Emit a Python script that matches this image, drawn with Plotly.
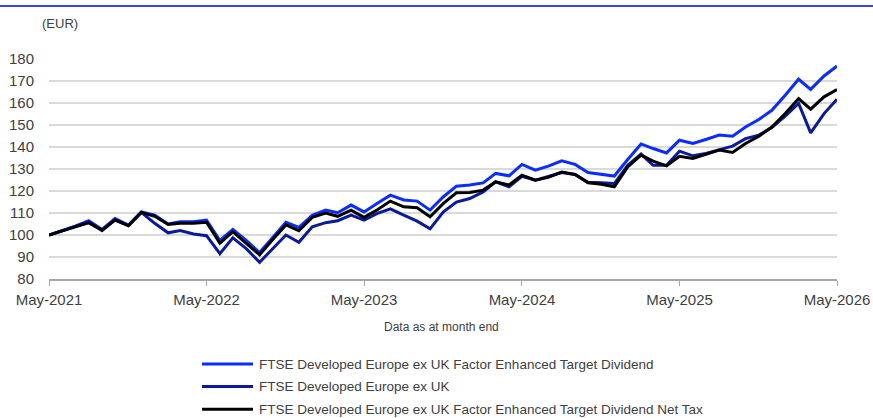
import pandas as pd
import plotly.graph_objects as go

# Month-end index levels, rebased to 100 at May-2021
months = pd.date_range("2021-05-01", "2026-05-01", freq="MS")

factor_target_div = [
    100, 102, 104, 106.5, 102.5, 107.5, 104.5, 110.5, 109, 105,
    106, 106, 106.8, 97.5, 102.5, 97.5, 92, 98.8, 105.8, 103.5,
    109, 111.3, 110.1, 113.6, 110.5, 114.4, 118.1, 115.9, 115.4, 111.3,
    117.4, 122.2, 122.7, 123.7, 128, 126.9, 132.1, 129.5, 131.3, 133.7,
    132.1, 128.4, 127.5, 126.8, 134.3, 141.4, 139.3, 137.3, 143.1, 141.6,
    143.4, 145.4, 144.9, 149.1, 152.5, 156.7, 163.5, 170.8, 166.2, 172.3,
    176.8,
]
dev_europe_ex_uk = [
    100, 102, 103.8, 106, 102, 107, 104.3, 110.3, 105.3, 101,
    102, 100.5, 99.7, 91.5, 98.7, 93.8, 87.6, 93.9, 100, 96.7,
    103.7, 105.6, 106.5, 109, 106.8, 109.8, 111.9, 109, 106.3, 102.8,
    110.5, 115, 116.6, 119.6, 124.2, 121.9, 126.7, 124.9, 126.5, 128.4,
    127.5, 124, 123.7, 123.4, 131.7, 136.8, 131.7, 131.7, 138.1, 136,
    137.1, 138.6, 140.4, 143.8, 145.4, 148.8, 154, 159.8, 146.4, 155.2,
    161.7,
]
factor_target_div_net = [
    100, 102, 103.7, 105.5, 102.2, 106.8, 104.2, 110.3, 108.5, 104.8,
    105.3, 105.3, 105.8, 96.3, 101.5, 96.2, 91, 97.8, 104.6, 102,
    108, 110, 108.5, 111.3, 108, 111.5, 115.4, 112.8, 112.4, 108.3,
    114.4, 119.2, 119.3, 120.4, 124.2, 122.7, 127.2, 124.9, 126.2, 128.6,
    127.5, 123.7, 123.1, 121.9, 131, 136.3, 133.6, 131.4, 135.8, 134.8,
    136.6, 138.6, 137.5, 141.6, 144.9, 149.1, 155.2, 162, 157.2, 162.8,
    166.1,
]

series_names = [
    "FTSE Developed Europe ex UK Factor Enhanced Target Dividend",
    "FTSE Developed Europe ex UK",
    "FTSE Developed Europe ex UK Factor Enhanced Target Dividend Net Tax",
]
series_values = [factor_target_div, dev_europe_ex_uk, factor_target_div_net]
series_colors = ["#0a2cff", "#0a1a9a", "#000000"]

tick_dates = pd.date_range("2021-05-01", "2026-05-01", freq="12MS")
tick_labels = [d.strftime("%b-%Y") for d in tick_dates]
y_ticks = list(range(80, 181, 10))

FONT = "Liberation Sans, Arial, sans-serif"
TEXT = "#404040"

# plot area geometry in pixels, used to place the key and headers
L, T, W, H = 49, 59, 788, 220


def px(x):
    return (x - L) / W


def py(y):
    return (T + H - y) / H


fig = go.Figure()
for name, vals, col in zip(series_names, series_values, series_colors):
    fig.add_trace(go.Scatter(
        x=months, y=vals, name=name, mode="lines",
        line=dict(color=col, width=3), showlegend=False,
    ))

shapes = [dict(
    type="line", xref="paper", yref="paper",
    x0=px(0), x1=px(873), y0=py(6), y1=py(6),
    line=dict(color="#0000e6", width=1.5),
)]
annotations = [
    dict(text="(EUR)", xref="paper", yref="paper",
         x=px(40), y=py(23), xanchor="left", yanchor="middle",
         showarrow=False, font=dict(size=13, color=TEXT)),
    dict(text="Data as at month end", xref="paper", yref="paper",
         x=px(441), y=py(327), xanchor="center", yanchor="middle",
         showarrow=False, font=dict(size=12, color=TEXT)),
]

# key below the chart
for k, (name, col) in enumerate(zip(series_names, series_colors)):
    row_y = 364 + k * 22.6
    shapes.append(dict(
        type="line", xref="paper", yref="paper",
        x0=px(202), x1=px(253), y0=py(row_y), y1=py(row_y),
        line=dict(color=col, width=3),
    ))
    annotations.append(dict(
        text=name, xref="paper", yref="paper",
        x=px(257), y=py(row_y), xanchor="left", yanchor="middle",
        showarrow=False, font=dict(size=13.5, color=TEXT),
    ))

fig.update_layout(
    width=873, height=418,
    margin=dict(l=L, r=873 - L - W, t=T, b=418 - T - H, autoexpand=False),
    paper_bgcolor="white", plot_bgcolor="white",
    font=dict(family=FONT, color=TEXT),
    showlegend=False,
    xaxis=dict(
        range=[months[0], months[-1]],
        tickvals=tick_dates, ticktext=tick_labels,
        tickfont=dict(size=15, color=TEXT),
        showgrid=False, zeroline=False, automargin=False,
        showline=True, linecolor="#a6a6a6", linewidth=1.5,
        ticks="outside", ticklen=5, tickcolor="#a6a6a6", tickwidth=1,
        ticklabelstandoff=1,
    ),
    yaxis=dict(
        range=[80, 180], tickvals=y_ticks,
        tickfont=dict(size=15, color=TEXT),
        showgrid=True, gridcolor="#d9d9d9", gridwidth=1.5,
        zeroline=False, showline=False, ticks="", automargin=False,
        ticklabelstandoff=14,
    ),
    shapes=shapes,
    annotations=annotations,
)

fig.write_html("out.html")
